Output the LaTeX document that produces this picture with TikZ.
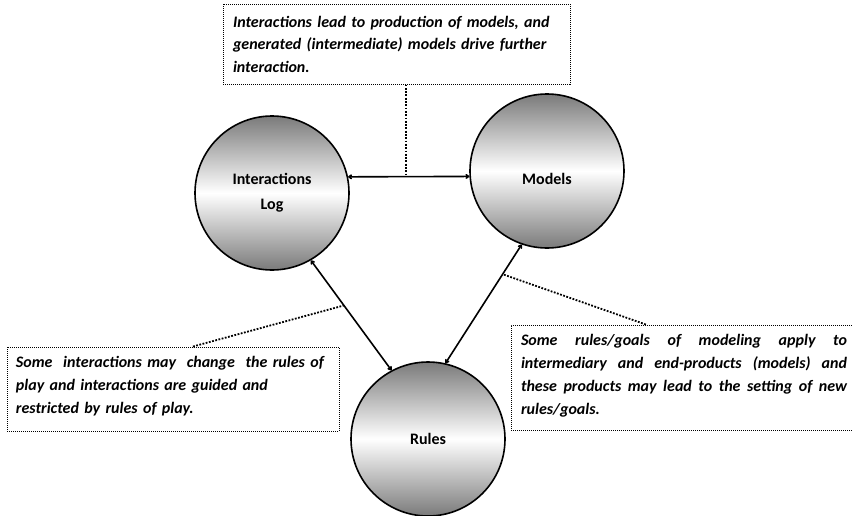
\documentclass[tikz,border=0pt]{standalone}
\usepackage{fontspec}
\setmainfont{Carlito}
\usetikzlibrary{arrows.meta,calc}

\tikzset{
  ball/.style={circle, draw=black, line width=1.6pt, minimum size=154pt, inner sep=0pt,
    top color=black!52, bottom color=black!52, middle color=white,
    font=\fontsize{16}{25}\selectfont\bfseries, align=center},
  notebox/.style={draw=black, line width=1pt, dash pattern=on 1pt off 1pt,
    font=\fontsize{16}{22.5}\selectfont\bfseries\itshape, inner ysep=0pt},
  link/.style={line width=1.6pt, {To[length=4pt,width=5pt]}-{To[length=4pt,width=5pt]}},
  leader/.style={line width=1.8pt, dash pattern=on 1.8pt off 1.5pt}
}

\begin{document}
\begin{tikzpicture}[x=1pt, y=-1pt]
\useasboundingbox (0,0) rectangle (852,515);

% the three phases
\node[ball] (log)    at (272,193) {Interactions\\Log};
\node[ball, text height=27pt] (models) at (547,171) {Models};
\node[ball] (rules)  at (428,439) {Rules};

% explanatory notes
\node[notebox, text width=327pt, inner xsep=10pt, minimum height=80pt, align=left] (topnote) at (396.5,44)
  {Interactions lead to production of models, and\\
   generated (intermediate) models drive further\\
   interaction.};

\node[notebox, text width=314pt, inner xsep=9pt, minimum height=84pt, align=left,
  font=\fontsize{16}{23}\selectfont\bfseries\itshape, text depth=55pt] (leftnote) at (173,389)
  {Some\ \ interactions may\ \ change\ \ the rules of\\
   play and interactions are guided and\\
   restricted by rules of play.};

\node[notebox, text width=326pt, inner xsep=10pt, minimum height=105pt, align=justify,
  font=\fontsize{16}{23}\selectfont\bfseries\itshape, text depth=76pt] (rightnote) at (684,377.5)
  {Some rules/goals of modeling apply to\linebreak
   intermediary and end-products (models) and\linebreak
   these products may lead to the setting of new\linebreak
   rules/goals.};

% two-way relations
\draw[link] (log.12) -- coordinate[pos=0.48] (lm) (models.184.5);
\draw[link] (log.-60) -- coordinate[pos=0.41] (lr) (rules.118);
\draw[link] (models.251) -- coordinate[pos=0.25] (mr) (rules.77);

% notes attached to the relations
\draw[leader] (topnote.south -| lm) -- (lm);
\draw[leader] ($(leftnote.north west)!0.56!(leftnote.north east)$) coordinate (ln) -- (lr);
\draw[leader] ($(rightnote.north west)!0.39!(rightnote.north east)$) coordinate (rn) -- (mr);
\end{tikzpicture}
\end{document}
